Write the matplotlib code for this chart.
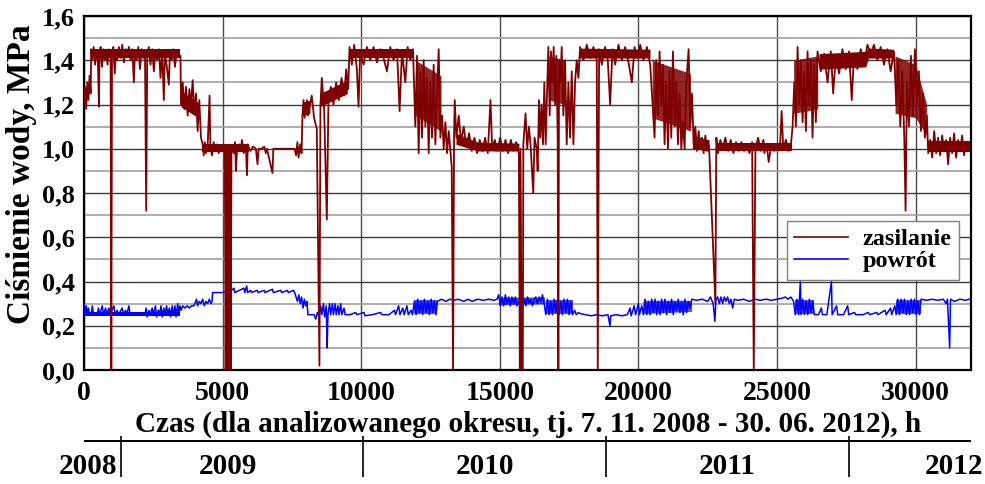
import matplotlib
matplotlib.use("Agg")
import matplotlib.pyplot as plt
from matplotlib.ticker import MultipleLocator, FuncFormatter
from matplotlib.lines import Line2D

# ---------------- data (hours, MPa) ----------------
zas_season_2008_09 = [
    (0, 1.20), (40, 1.28), (80, 1.18), (120, 1.30), (160, 1.22), (200, 1.33), (240, 1.25),
    (260, 1.45), (300, 1.40), (350, 1.46), (400, 1.38), (450, 1.44), (500, 1.40), (540, 1.19),
    (560, 1.43), (600, 1.46), (650, 1.37), (700, 1.45), (750, 1.40), (800, 1.44), (850, 1.38),
    (900, 1.45), (960, 1.41), (985, 0.0), (1010, 1.43), (1060, 1.46), (1110, 1.34), (1150, 1.44),
    (1200, 1.40), (1260, 1.46), (1320, 1.41), (1380, 1.47), (1440, 1.39), (1500, 1.45),
    (1560, 1.42), (1620, 1.46), (1680, 1.40), (1740, 1.45), (1800, 1.30), (1840, 1.44),
    (1900, 1.40), (1960, 1.46), (2020, 1.36), (2080, 1.45), (2140, 1.41), (2200, 1.44),
    (2244, 0.72), (2280, 1.42), (2340, 1.46), (2400, 1.38), (2460, 1.45), (2520, 1.35),
    (2580, 1.44), (2640, 1.40), (2700, 1.45), (2760, 1.32), (2820, 1.44), (2880, 1.22),
    (2920, 1.43), (2980, 1.38), (3060, 1.29), (3100, 1.44), (3160, 1.40), (3220, 1.45),
    (3280, 1.37), (3340, 1.43), (3480, 1.42), (3500, 1.20), (3560, 1.30), (3620, 1.18),
    (3680, 1.28), (3740, 1.15), (3800, 1.27), (3860, 1.20), (3920, 1.31), (3980, 1.16),
    (4040, 1.25), (4100, 1.08), (4160, 1.22), (4220, 1.05), (4280, 1.02), (4320, 0.97),
    (4360, 1.03), (4400, 0.98), (4460, 1.01), (4530, 1.24), (4560, 1.00), (4620, 0.97),
    (4680, 1.03), (4740, 0.99), (4800, 1.02), (4860, 0.98), (4920, 1.01), (4980, 0.99),
    (5040, 1.02), (5080, 1.00), (5110, 0.0), (5140, 1.00), (5170, 0.0), (5200, 1.00),
    (5230, 0.0), (5260, 1.00), (5290, 0.0), (5320, 1.00), (5350, 1.01), (5400, 0.98),
    (5450, 1.03), (5480, 0.90), (5520, 0.99), (5600, 1.02), (5650, 0.99), (5700, 1.04),
    (5760, 0.98), (5840, 1.01), (5880, 0.88), (5910, 1.02), (5960, 1.00), (6000, 0.99),
    (6100, 1.01), (6200, 1.00), (6260, 0.93), (6300, 1.00), (6400, 1.00), (6500, 1.01),
    (6560, 0.98), (6600, 1.00), (6800, 0.89), (6830, 1.00), (7000, 1.00), (7200, 1.00),
    (7400, 1.00), (7600, 1.00), (7650, 0.97), (7700, 1.03), (7740, 0.96), (7800, 1.02),
    (7850, 0.98), (7880, 1.15), (7920, 1.22), (7960, 1.14), (8000, 1.18), (8040, 1.22),
    (8080, 1.15),
]
zas_season_2009_10 = [
    (8157, 1.20), (8217, 1.24), (8300, 1.14), (8398, 1.09), (8494, 0.02), (8530, 1.20),
    (8580, 1.32), (8663, 1.18), (8760, 0.68), (8820, 1.22), (8904, 1.28), (9000, 1.20),
    (9097, 1.30), (9193, 1.22), (9290, 1.32), (9386, 1.24), (9458, 1.36), (9530, 1.27),
    (9580, 1.46), (9664, 1.38), (9748, 1.47), (9844, 1.36), (9904, 1.19), (9964, 1.44),
    (10085, 1.38), (10206, 1.46), (10326, 1.40), (10447, 1.46), (10567, 1.39), (10688, 1.45),
    (10808, 1.41), (10929, 1.35), (11049, 1.46), (11170, 1.40), (11290, 1.45), (11386, 1.17),
    (11471, 1.44), (11591, 1.30), (11675, 1.46), (11772, 1.40), (11868, 1.45), (11953, 1.10),
    (12013, 1.42), (12073, 0.98), (12134, 1.35), (12194, 1.05), (12254, 1.40), (12314, 1.10),
    (12374, 1.32), (12435, 0.98), (12495, 1.30), (12555, 1.05), (12615, 1.38), (12676, 1.02),
    (12736, 1.25), (12796, 1.45), (12857, 1.05), (12917, 1.15), (12977, 1.00), (13037, 1.12),
    (13098, 0.98), (13158, 1.08), (13218, 0.99), (13266, 0.92), (13314, 0.0), (13350, 1.05),
    (13375, 1.22), (13435, 1.05), (13520, 1.15), (13604, 1.03), (13700, 1.10), (13796, 1.01),
    (13893, 1.07), (13989, 0.99), (14086, 1.05), (14182, 0.98), (14278, 1.04), (14375, 0.99),
    (14471, 1.05), (14568, 0.98), (14664, 1.22), (14724, 1.00), (14821, 1.04), (14917, 0.99),
    (15013, 1.05), (15110, 0.99), (15206, 1.04), (15303, 0.98), (15399, 1.04), (15495, 0.99),
    (15592, 1.03), (15688, 0.98), (15724, 0.0), (15748, 1.00), (15790, 0.0), (15810, 0.0),
    (15830, 0.0), (15850, 1.02), (15929, 1.16), (15990, 1.00), (16050, 1.10), (16110, 1.02),
    (16206, 0.80), (16254, 1.05),
]
zas_season_2010_11 = [
    (16330, 1.00), (16366, 0.90), (16415, 1.22), (16463, 1.05), (16511, 1.20), (16559, 1.02),
    (16607, 1.30), (16656, 1.02), (16704, 1.25), (16752, 1.46), (16800, 1.15), (16848, 1.44),
    (16897, 1.30), (16945, 1.46), (16993, 1.20), (17041, 1.42), (17089, 1.05), (17113, 0.0),
    (17138, 1.40), (17186, 1.30), (17234, 1.46), (17294, 1.15), (17355, 1.40), (17415, 1.02),
    (17475, 1.30), (17535, 1.05), (17596, 1.35), (17656, 1.02), (17716, 1.30), (17776, 1.40),
    (17837, 1.32), (17897, 1.46), (18017, 1.40), (18138, 1.47), (18258, 1.41), (18379, 1.46),
    (18499, 1.40), (18535, 0.0), (18584, 1.45), (18680, 1.38), (18801, 1.46), (18897, 1.40),
    (18981, 1.20), (19066, 1.45), (19162, 1.38), (19283, 1.47), (19403, 1.40), (19524, 1.46),
    (19644, 1.39), (19765, 1.30), (19861, 1.46), (19945, 1.41), (20066, 1.47), (20186, 1.40),
    (20307, 1.46), (20427, 1.38), (20512, 1.20), (20584, 1.05), (20644, 1.40), (20704, 1.15),
    (20765, 1.44), (20825, 1.20), (20885, 1.38), (20945, 1.02), (21006, 1.30), (21066, 1.00),
    (21126, 1.35), (21186, 1.05), (21247, 1.44), (21307, 1.10), (21367, 1.30), (21427, 1.02),
    (21488, 1.25), (21548, 1.00), (21608, 1.12), (21668, 1.00), (21729, 1.30), (21813, 1.45),
    (21873, 1.10), (21934, 1.25), (21994, 1.02), (22054, 1.10), (22114, 0.99), (22175, 1.08),
    (22235, 1.00), (22295, 1.05), (22355, 0.98), (22416, 1.06), (22476, 0.99), (22536, 1.02),
    (22560, 0.98), (22777, 0.30), (22813, 1.05), (22873, 0.98), (22958, 1.04), (23042, 1.00),
    (23139, 1.05), (23235, 0.99), (23331, 1.04), (23428, 0.98), (23524, 1.03), (23621, 0.99),
    (23717, 1.03), (23813, 0.99), (23910, 1.02), (24006, 0.98), (24103, 1.03), (24163, 0.0),
    (24223, 1.00), (24319, 1.05), (24416, 0.99), (24512, 1.04),
]
zas_season_2011_12 = [
    (24545, 0.98), (24629, 1.02), (24701, 0.94), (24785, 1.01), (24905, 0.99), (25025, 1.02),
    (25108, 1.00), (25168, 1.17), (25228, 1.00), (25324, 1.04), (25420, 0.99), (25504, 1.02),
    (25564, 1.10), (25624, 1.30), (25684, 1.10), (25744, 1.46), (25804, 1.20), (25864, 1.40),
    (25924, 1.12), (25984, 1.35), (26044, 1.08), (26103, 1.44), (26163, 1.20), (26223, 1.40),
    (26283, 1.05), (26343, 1.38), (26403, 1.12), (26463, 1.44), (26583, 1.35), (26703, 1.43),
    (26823, 1.30), (26943, 1.44), (27027, 1.25), (27123, 1.42), (27243, 1.34), (27362, 1.45),
    (27482, 1.36), (27602, 1.44), (27698, 1.22), (27782, 1.43), (27902, 1.36), (28022, 1.45),
    (28142, 1.38), (28262, 1.47), (28382, 1.43), (28502, 1.47), (28621, 1.40), (28741, 1.46),
    (28861, 1.38), (28981, 1.45), (29101, 1.35), (29221, 1.44), (29305, 1.20), (29377, 1.40),
    (29449, 1.10), (29521, 1.35), (29593, 1.05), (29640, 0.72), (29689, 1.30), (29761, 1.10),
    (29833, 1.42), (29904, 1.15), (29976, 1.45), (30048, 1.20), (30120, 1.35), (30192, 1.08),
    (30264, 1.25), (30336, 1.05), (30408, 1.15), (30456, 0.98), (30528, 1.04), (30600, 0.96),
    (30672, 1.08), (30744, 0.98), (30816, 1.05), (30888, 0.97), (30960, 1.06), (31031, 0.99),
    (31103, 1.04), (31175, 0.93), (31247, 1.05), (31319, 0.98), (31391, 1.07), (31463, 0.96),
    (31535, 1.04), (31607, 0.99), (31679, 1.06), (31751, 0.97), (31823, 1.03), (31895, 0.99),
    (31943, 1.02),
]

# dense core of the supply-pressure noise (hours, lower edge, upper edge)
zas_core_2008_09 = [(262, 1.41, 1.45), (3470, 1.41, 1.45)]
zas_core_2008_09b = [(3500, 1.19, 1.26), (4120, 1.14, 1.21)]
zas_core_2008_09c = [(4260, 0.985, 1.02), (5950, 0.985, 1.02)]
zas_core_2008_09d = [(7885, 1.15, 1.21), (8150, 1.16, 1.22)]
zas_core_2009_10a = [(8520, 1.19, 1.25), (9500, 1.25, 1.31)]
zas_core_2009_10 = [(9590, 1.41, 1.45), (11880, 1.41, 1.45)]
zas_core_2009_10b = [(13420, 1.02, 1.07), (14200, 0.99, 1.03), (15690, 0.99, 1.025)]
zas_core_2010_11 = [(17870, 1.41, 1.455), (20420, 1.41, 1.45)]
zas_core_2010_11a = [(21950, 1.00, 1.06), (22550, 0.99, 1.04)]
zas_core_2010_11b = [(22820, 0.99, 1.025), (25540, 0.99, 1.025)]
zas_core_2011_12 = [(26520, 1.36, 1.43), (28200, 1.37, 1.44), (28300, 1.41, 1.455), (29200, 1.41, 1.45)]
zas_core_2011_12b = [(30460, 0.985, 1.035), (31950, 0.985, 1.035)]
# dense middle of the strongly fluctuating parts (hours, lower edge, upper edge)
zas_wild_a = [(11960, 1.15, 1.40), (12880, 1.08, 1.33)]
zas_wild_b = [(16770, 1.22, 1.42), (17340, 1.20, 1.40)]
zas_wild_c = [(20500, 1.14, 1.40), (21880, 1.08, 1.34)]
zas_wild_d = [(25600, 1.16, 1.40), (26470, 1.18, 1.42)]
zas_wild_e = [(29260, 1.16, 1.42), (30000, 1.14, 1.38), (30400, 1.06, 1.20)]

pow_season_2008_09 = [
    (0, 0.30), (40, 0.25), (80, 0.29), (120, 0.25), (160, 0.28), (200, 0.25), (260, 0.25),
    (300, 0.29), (340, 0.25), (480, 0.25), (520, 0.28), (560, 0.25), (660, 0.29), (700, 0.25),
    (780, 0.28), (820, 0.25), (900, 0.28), (940, 0.25), (1080, 0.29), (1120, 0.25), (1200, 0.27),
    (1240, 0.25), (1380, 0.28), (1420, 0.25), (1500, 0.27), (1540, 0.25), (1620, 0.29),
    (1660, 0.25), (1800, 0.25), (2200, 0.25), (2240, 0.28), (2280, 0.24), (2340, 0.27),
    (2380, 0.25), (2460, 0.28), (2500, 0.25), (2580, 0.29), (2620, 0.24), (2680, 0.27),
    (2720, 0.25), (2780, 0.29), (2820, 0.24), (2880, 0.28), (2920, 0.25), (2980, 0.29),
    (3020, 0.25), (3080, 0.28), (3120, 0.24), (3180, 0.29), (3220, 0.25), (3280, 0.29),
    (3320, 0.24), (3380, 0.30), (3420, 0.25), (3460, 0.29), (3500, 0.27), (3560, 0.29),
    (3640, 0.28), (3720, 0.29), (3800, 0.28), (3880, 0.29), (3960, 0.29), (4000, 0.30),
    (4060, 0.32), (4100, 0.29), (4160, 0.31), (4220, 0.30), (4280, 0.32), (4340, 0.29),
    (4400, 0.31), (4460, 0.30), (4520, 0.32), (4580, 0.30), (4620, 0.31), (4640, 0.35),
    (5000, 0.35), (5200, 0.36), (5240, 0.35), (5410, 0.37), (5440, 0.35), (5770, 0.37),
    (5800, 0.35), (5870, 0.38), (5900, 0.35), (6010, 0.36), (6040, 0.35), (6250, 0.36),
    (6280, 0.35), (6500, 0.36), (6530, 0.35), (6800, 0.365), (6830, 0.35), (7100, 0.36),
    (7130, 0.35), (7340, 0.36), (7370, 0.35), (7560, 0.36), (7600, 0.35), (7650, 0.33),
    (7700, 0.31), (7750, 0.34), (7800, 0.30), (7850, 0.33), (7900, 0.28), (7950, 0.32),
    (8000, 0.29), (8040, 0.31), (8080, 0.25),
]
pow_season_2009_10 = [
    (8300, 0.25), (8360, 0.23), (8420, 0.26), (8480, 0.24), (8540, 0.29), (8580, 0.25),
    (8640, 0.30), (8680, 0.24), (8740, 0.29), (8772, 0.10), (8800, 0.25), (8860, 0.30),
    (8900, 0.25), (8960, 0.30), (9000, 0.25), (9060, 0.30), (9100, 0.25), (9160, 0.29),
    (9200, 0.25), (9260, 0.30), (9300, 0.25), (9380, 0.28), (9420, 0.25), (9600, 0.25),
    (9800, 0.26), (9840, 0.25), (10100, 0.26), (10140, 0.245), (10400, 0.25), (10700, 0.26),
    (10740, 0.25), (11000, 0.25), (11200, 0.27), (11240, 0.25), (11350, 0.29), (11400, 0.25),
    (11500, 0.28), (11550, 0.25), (11650, 0.29), (11700, 0.25), (11800, 0.27), (11850, 0.25),
    (11920, 0.31), (11980, 0.25), (12040, 0.32), (12100, 0.26), (12160, 0.31), (12220, 0.25),
    (12280, 0.32), (12340, 0.26), (12400, 0.31), (12460, 0.25), (12520, 0.32), (12580, 0.26),
    (12640, 0.31), (12700, 0.25), (12750, 0.31), (12900, 0.32), (13050, 0.31), (13200, 0.32),
    (13350, 0.315), (13500, 0.32), (13700, 0.31), (13850, 0.32), (14000, 0.31), (14200, 0.32),
    (14400, 0.315), (14600, 0.32), (14800, 0.315), (14900, 0.32), (14960, 0.34), (15020, 0.29),
    (15080, 0.33), (15140, 0.29), (15200, 0.34), (15260, 0.30), (15320, 0.33), (15380, 0.29),
    (15440, 0.33), (15500, 0.30), (15560, 0.33), (15620, 0.29), (15700, 0.31), (15760, 0.33),
    (15820, 0.28), (15880, 0.32), (15940, 0.29), (16000, 0.33), (16060, 0.30), (16120, 0.32),
    (16180, 0.29), (16240, 0.32),
]
pow_season_2010_11 = [
    (16300, 0.33), (16360, 0.30), (16420, 0.33), (16480, 0.31), (16540, 0.34), (16600, 0.30),
    (16660, 0.25), (16720, 0.32), (16780, 0.25), (16840, 0.31), (16900, 0.25), (16960, 0.32),
    (17020, 0.26), (17080, 0.32), (17140, 0.25), (17200, 0.31), (17260, 0.25), (17320, 0.32),
    (17380, 0.26), (17440, 0.32), (17500, 0.25), (17560, 0.31), (17620, 0.25), (17700, 0.27),
    (17760, 0.25), (17830, 0.26), (17900, 0.255), (18100, 0.25), (18300, 0.245), (18500, 0.25),
    (18700, 0.245), (18900, 0.25), (18976, 0.20), (19000, 0.245), (19200, 0.25), (19400, 0.245),
    (19600, 0.25), (19700, 0.28), (19740, 0.245), (19850, 0.29), (19900, 0.25), (20000, 0.30),
    (20040, 0.25), (20120, 0.29), (20180, 0.25), (20240, 0.32), (20300, 0.25), (20360, 0.31),
    (20420, 0.25), (20480, 0.32), (20540, 0.26), (20600, 0.32), (20660, 0.25), (20720, 0.31),
    (20780, 0.25), (20840, 0.32), (20900, 0.26), (20960, 0.32), (21020, 0.25), (21080, 0.31),
    (21140, 0.26), (21200, 0.32), (21260, 0.25), (21320, 0.31), (21380, 0.27), (21440, 0.32),
    (21500, 0.26), (21560, 0.31), (21620, 0.25), (21680, 0.32), (21740, 0.26), (21800, 0.31),
    (21860, 0.28), (21930, 0.32), (22100, 0.315), (22300, 0.32), (22500, 0.31), (22600, 0.33),
    (22700, 0.30), (22760, 0.22), (22800, 0.32), (22860, 0.33), (22920, 0.30), (22980, 0.33),
    (23040, 0.30), (23100, 0.33), (23160, 0.31), (23220, 0.33), (23280, 0.30), (23340, 0.32),
    (23400, 0.28), (23460, 0.32), (23600, 0.315), (23800, 0.32), (24000, 0.31), (24200, 0.32),
    (24400, 0.315),
]
pow_season_2011_12 = [
    (24600, 0.32), (24800, 0.315), (25000, 0.32), (25200, 0.325), (25300, 0.33), (25400, 0.32),
    (25500, 0.33), (25600, 0.31), (25660, 0.25), (25720, 0.32), (25780, 0.25), (25844, 0.40),
    (25870, 0.25), (25930, 0.32), (25990, 0.25), (26050, 0.31), (26110, 0.25), (26170, 0.32),
    (26230, 0.26), (26290, 0.31), (26350, 0.25), (26500, 0.25), (26600, 0.28), (26640, 0.25),
    (26800, 0.25), (26965, 0.40), (26990, 0.25), (27150, 0.29), (27190, 0.25), (27400, 0.25),
    (27550, 0.29), (27590, 0.25), (27800, 0.26), (27840, 0.25), (28100, 0.25), (28300, 0.26),
    (28340, 0.25), (28600, 0.26), (28640, 0.25), (28900, 0.27), (28940, 0.25), (29100, 0.28),
    (29140, 0.25), (29250, 0.29), (29300, 0.25), (29360, 0.32), (29420, 0.25), (29480, 0.32),
    (29540, 0.26), (29600, 0.32), (29660, 0.25), (29720, 0.31), (29780, 0.25), (29840, 0.32),
    (29900, 0.26), (29960, 0.32), (30020, 0.25), (30080, 0.31), (30140, 0.25), (30200, 0.32),
    (30400, 0.315), (30600, 0.32), (30800, 0.315), (31000, 0.32), (31100, 0.30), (31150, 0.32),
    (31230, 0.10), (31260, 0.32), (31400, 0.31), (31600, 0.32), (31800, 0.315), (31940, 0.32),
]

# dense parts of the return-pressure noise (hours, lower edge, upper edge)
pow_core_a = [(0, 0.245, 0.26), (3480, 0.245, 0.26)]
pow_wild_a = [(11920, 0.255, 0.315), (12740, 0.255, 0.315)]
pow_wild_b = [(14950, 0.295, 0.33), (16620, 0.30, 0.33)]
pow_wild_c = [(16650, 0.255, 0.315), (17650, 0.255, 0.315)]
pow_wild_d = [(20170, 0.255, 0.315), (21920, 0.265, 0.315)]
pow_wild_e = [(25650, 0.255, 0.315), (26350, 0.255, 0.315)]
pow_wild_f = [(29290, 0.255, 0.315), (30200, 0.255, 0.315)]

series_labels = ["zasilanie", "powrót"]
x_ticks = [0, 5000, 10000, 15000, 20000, 25000, 30000]
y_ticks = [0.0, 0.2, 0.4, 0.6, 0.8, 1.0, 1.2, 1.4, 1.6]
year_bounds = [1320, 10080, 18840, 27600]
year_names = ["2008", "2009", "2010", "2011", "2012"]
year_label_pos = [1190, 5200, 14460, 23220, 32440]

# ---------------- figure ----------------
FONT = "Liberation Serif"
plt.rcParams["font.family"] = [FONT, "DejaVu Serif"]
plt.rcParams["font.weight"] = "bold"

fig = plt.figure(figsize=(9.85, 4.84), dpi=100)
W, H = 985, 484
L, R, T, B = 84, 971, 16, 370
ax = fig.add_axes([L / W, 1 - B / H, (R - L) / W, (B - T) / H])

RED = "#7f0000"
BLUE = "#0000ff"


def band(data, color, alpha, z):
    ax.fill_between([b[0] for b in data], [b[1] for b in data], [b[2] for b in data],
                    color=color, lw=0, alpha=alpha, zorder=z)


band(pow_core_a, BLUE, 1.0, 3)
for d in (pow_wild_a, pow_wild_b, pow_wild_c, pow_wild_d, pow_wild_e, pow_wild_f):
    band(d, BLUE, 0.7, 3)
pw = pow_season_2008_09 + pow_season_2009_10 + pow_season_2010_11 + pow_season_2011_12
ax.plot([p[0] for p in pw], [p[1] for p in pw], color=BLUE, lw=1.1, zorder=3)

for d in (zas_wild_a, zas_wild_b, zas_wild_c, zas_wild_d, zas_wild_e):
    band(d, RED, 0.85, 4)
for d in (zas_core_2008_09, zas_core_2008_09b, zas_core_2008_09c, zas_core_2008_09d,
          zas_core_2009_10a, zas_core_2009_10, zas_core_2009_10b, zas_core_2010_11,
          zas_core_2010_11a, zas_core_2010_11b, zas_core_2011_12, zas_core_2011_12b):
    band(d, RED, 1.0, 4)
zas = zas_season_2008_09 + zas_season_2009_10 + zas_season_2010_11 + zas_season_2011_12
ax.plot([p[0] for p in zas], [p[1] for p in zas], color=RED, lw=1.3, zorder=4)

ax.set_xlim(0, 32000)
ax.set_ylim(0, 1.6)
ax.set_xticks(x_ticks)
ax.set_yticks(y_ticks)
ax.yaxis.set_minor_locator(MultipleLocator(0.1))
ax.yaxis.set_major_formatter(FuncFormatter(lambda v, p: f"{v:.1f}".replace(".", ",")))
ax.tick_params(axis="both", which="both", length=0)
ax.tick_params(axis="x", labelsize=20, pad=8)
ax.tick_params(axis="y", labelsize=19, pad=6.5)
for lab in ax.get_xticklabels() + ax.get_yticklabels():
    lab.set_fontweight("bold")

ax.grid(True, which="major", axis="y", color="#3a3a3a", lw=1.0, zorder=1)
ax.grid(True, which="minor", axis="y", color="#a0a0a0", lw=1.2, zorder=1)
ax.grid(True, which="major", axis="x", color="#484848", lw=1.0, zorder=1)
ax.set_axisbelow(True)
for s in ax.spines.values():
    s.set_linewidth(1.6)
    s.set_color("black")

fig.text(22 / W, 1 - 174 / H, "Ciśnienie wody, MPa", rotation=90, ha="center", va="center",
         fontsize=24, fontweight="bold")
fig.text(528 / W, 1 - 424 / H, "Czas (dla analizowanego okresu, tj. 7. 11. 2008 - 30. 06. 2012), h",
         ha="center", va="center", fontsize=21, fontweight="bold")

handles = [Line2D([], [], color=RED, lw=1.2), Line2D([], [], color=BLUE, lw=1.2)]
leg = ax.legend(handles, series_labels, loc="upper left", bbox_to_anchor=(0.7926, 0.421),
                borderaxespad=0, fancybox=False, framealpha=1, edgecolor="#808080",
                prop={"family": FONT, "weight": "bold", "size": 17.5}, handlelength=2.2,
                labelspacing=0.0, borderpad=0.3, handletextpad=0.6)
leg.get_frame().set_linewidth(1.0)
leg.set_zorder(6)

# year strip
yax = fig.add_axes([L / W, 0, (R - L) / W, 58 / H])
yax.set_xlim(0, 32000)
yax.set_ylim(484, 426)
yax.axis("off")
yax.hlines(441, 0, 32000, color="black", lw=1.4, clip_on=False)
yax.vlines(year_bounds, 436, 477, color="black", lw=1.2, clip_on=False)
for i, (name, xp) in enumerate(zip(year_names, year_label_pos)):
    ha = "right" if i in (0, len(year_names) - 1) else "center"
    yax.text(xp, 466, name, ha=ha, va="center", fontsize=21, fontweight="bold", clip_on=False)

fig.savefig("out.png", dpi=100)
